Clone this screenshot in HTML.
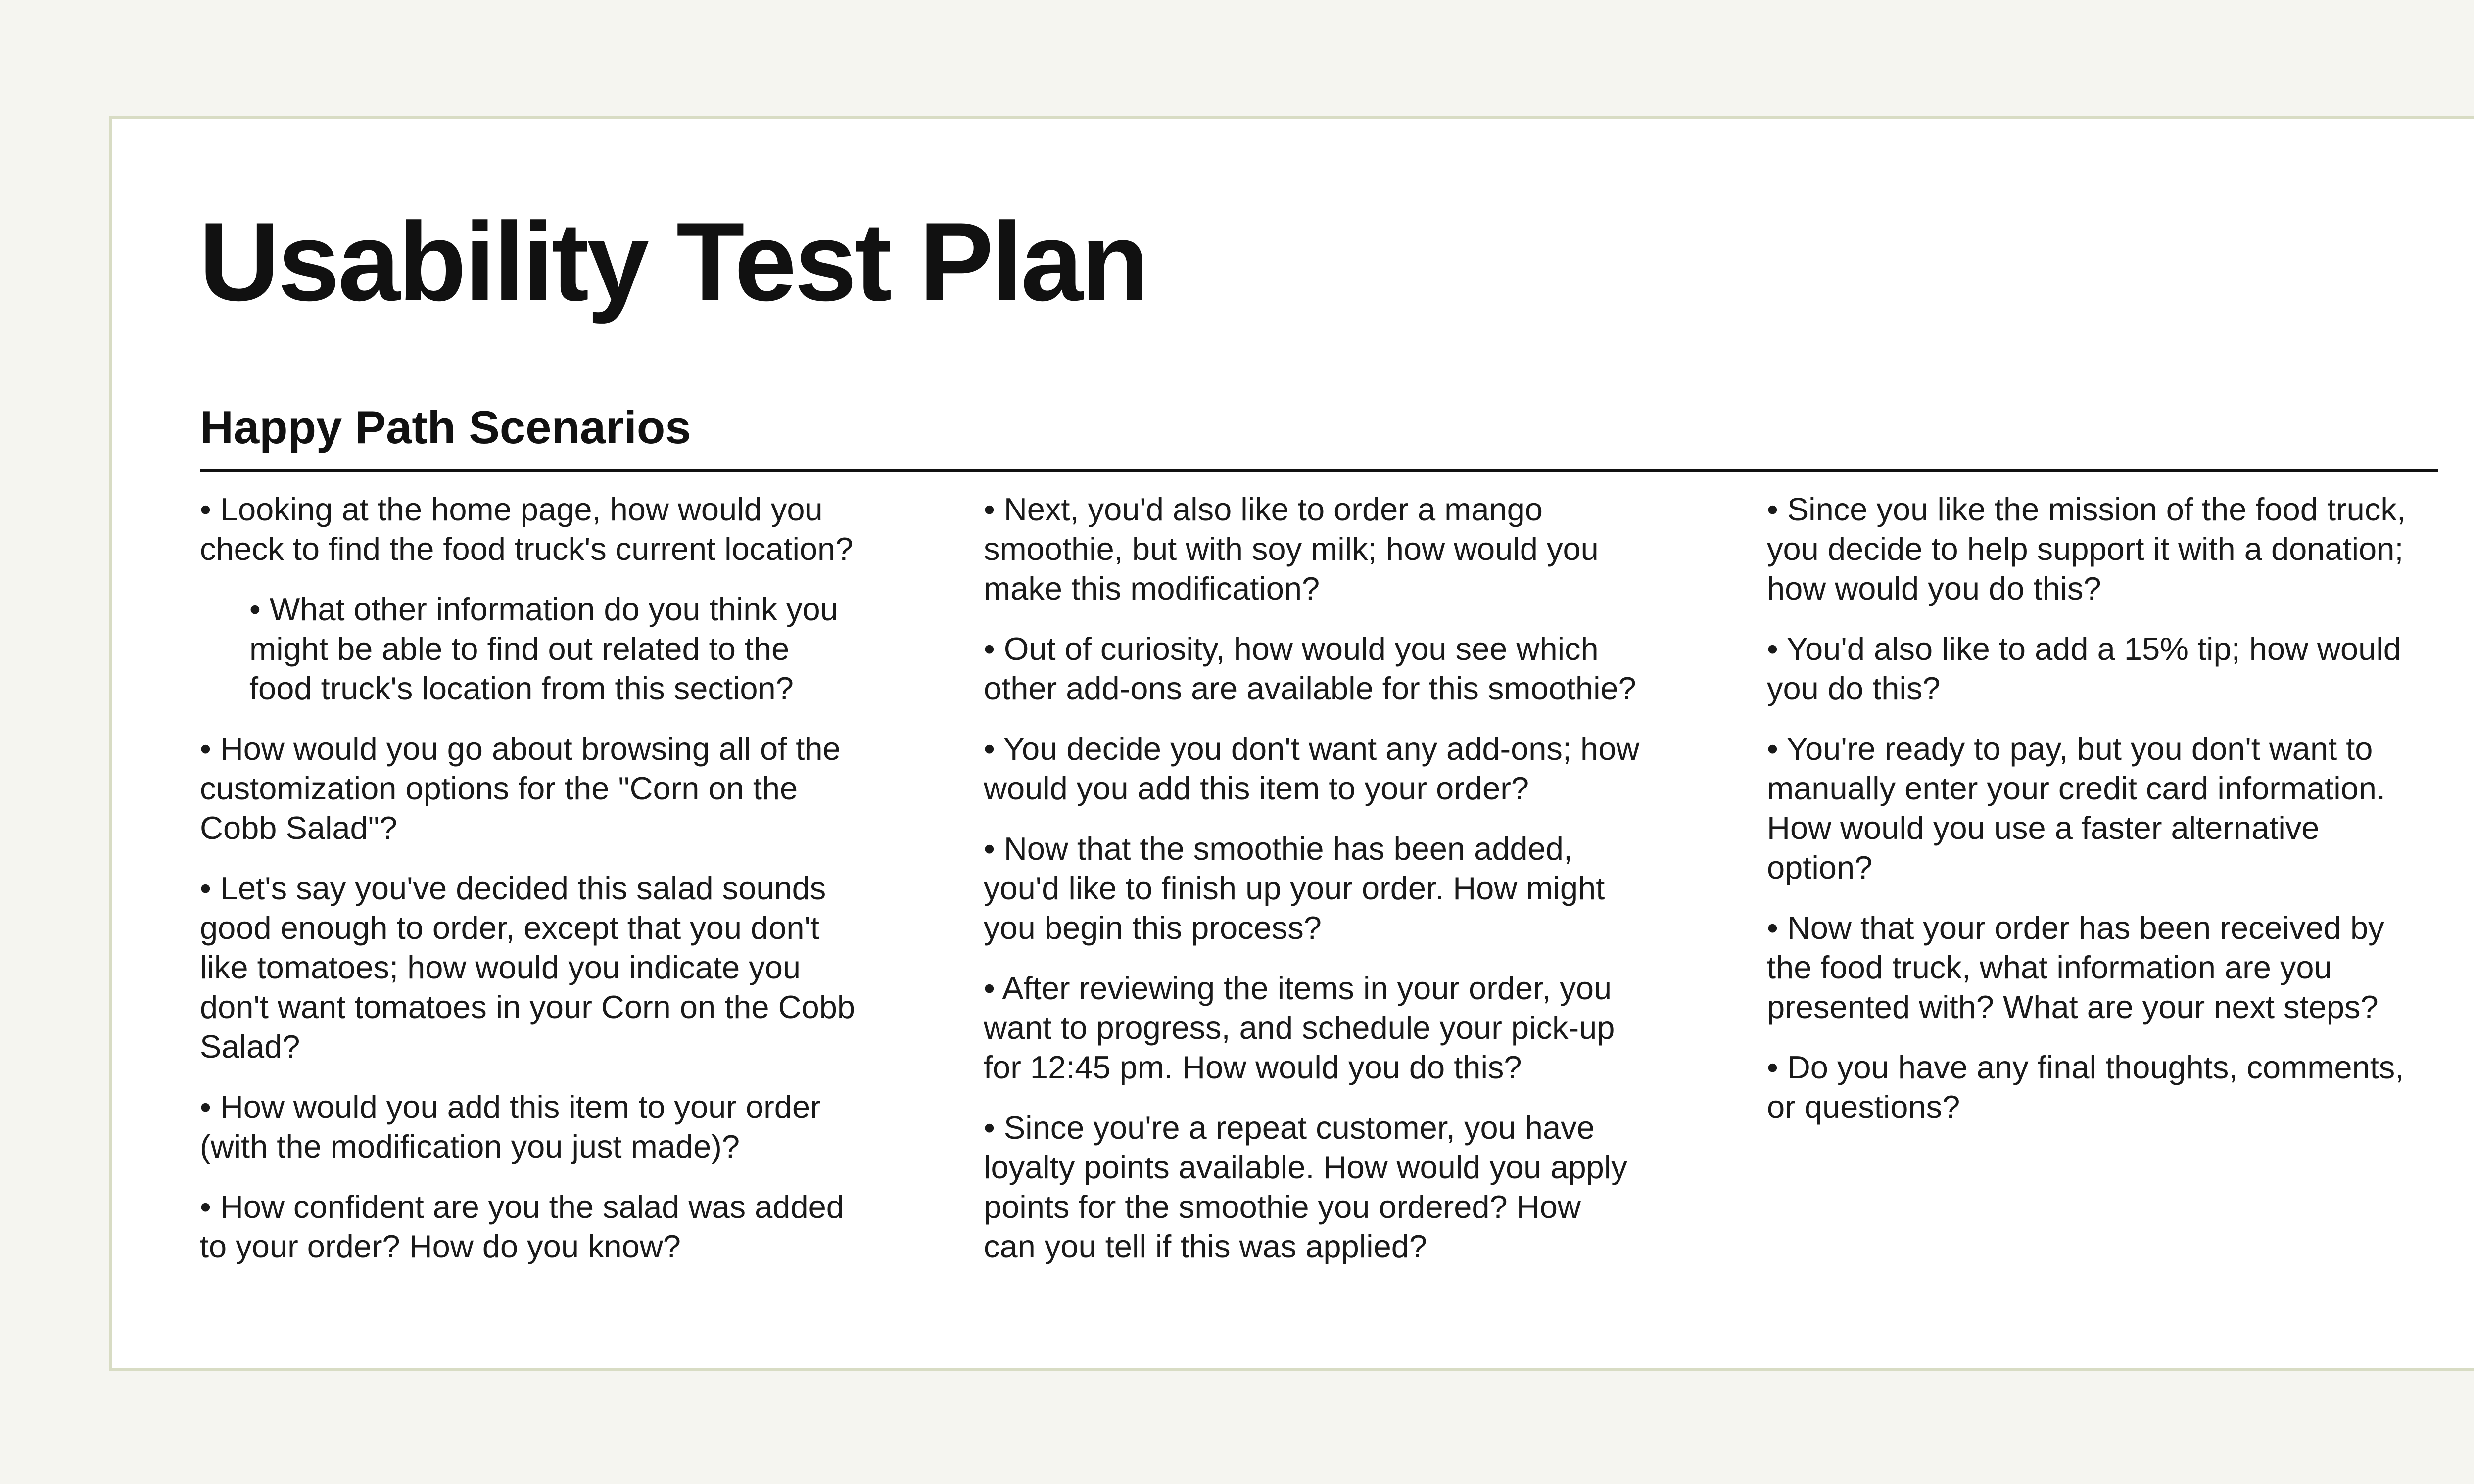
<!DOCTYPE html>
<html><head><meta charset="utf-8">
<style>
html,body{margin:0;padding:0;}
body{width:5333px;height:3000px;background:#f5f5f0;position:relative;overflow:hidden;font-family:"Liberation Sans",sans-serif;color:#111;}
.card{position:absolute;left:221px;top:235px;width:4890px;height:2526px;background:#fff;border:5px solid #d8dcc4;}
.title{position:absolute;left:402px;top:416px;font-size:226px;font-weight:bold;letter-spacing:-4px;line-height:1;white-space:nowrap;}
.sub{position:absolute;left:404px;top:817px;font-size:94px;font-weight:bold;line-height:1;white-space:nowrap;}
.rule{position:absolute;left:405px;top:949px;width:4523px;height:6px;background:#111;}
.col{position:absolute;top:990px;font-size:65px;line-height:80px;color:#1a1a1a;}
.col p{margin:0 0 42px 0;white-space:nowrap;}
.col p.ind{margin-left:100px;}
</style></head><body>
<div class="card"></div>
<div class="title">Usability Test Plan</div>
<div class="sub">Happy Path Scenarios</div>
<div class="rule"></div>

<div class="col" style="left:404px">
<p>• Looking at the home page, how would you<br>check to find the food truck's current location?</p>
<p class="ind">• What other information do you think you<br>might be able to find out related to the<br>food truck's location from this section?</p>
<p>• How would you go about browsing all of the<br>customization options for the "Corn on the<br>Cobb Salad"?</p>
<p>• Let's say you've decided this salad sounds<br>good enough to order, except that you don't<br>like tomatoes; how would you indicate you<br>don't want tomatoes in your Corn on the Cobb<br>Salad?</p>
<p>• How would you add this item to your order<br>(with the modification you just made)?</p>
<p>• How confident are you the salad was added<br>to your order? How do you know?</p>
</div>

<div class="col" style="left:1988px">
<p>• Next, you'd also like to order a mango<br>smoothie, but with soy milk; how would you<br>make this modification?</p>
<p>• Out of curiosity, how would you see which<br>other add-ons are available for this smoothie?</p>
<p>• You decide you don't want any add-ons; how<br>would you add this item to your order?</p>
<p>• Now that the smoothie has been added,<br>you'd like to finish up your order. How might<br>you begin this process?</p>
<p>• After reviewing the items in your order, you<br>want to progress, and schedule your pick-up<br>for 12:45 pm. How would you do this?</p>
<p>• Since you're a repeat customer, you have<br>loyalty points available. How would you apply<br>points for the smoothie you ordered? How<br>can you tell if this was applied?</p>
</div>

<div class="col" style="left:3571px">
<p>• Since you like the mission of the food truck,<br>you decide to help support it with a donation;<br>how would you do this?</p>
<p>• You'd also like to add a 15% tip; how would<br>you do this?</p>
<p>• You're ready to pay, but you don't want to<br>manually enter your credit card information.<br>How would you use a faster alternative<br>option?</p>
<p>• Now that your order has been received by<br>the food truck, what information are you<br>presented with? What are your next steps?</p>
<p>• Do you have any final thoughts, comments,<br>or questions?</p>
</div>
</body></html>
